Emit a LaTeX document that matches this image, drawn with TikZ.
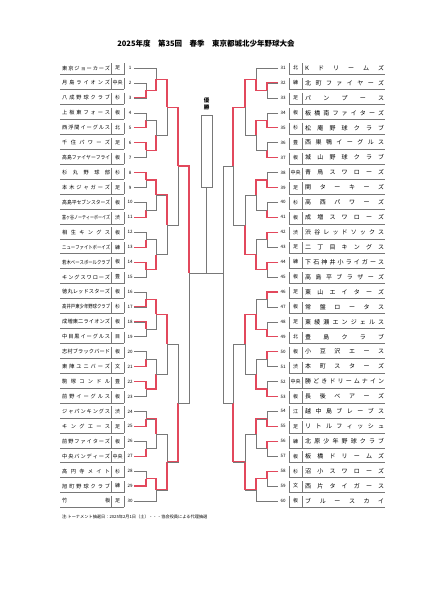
\documentclass[tikz,border=0pt]{standalone}
\usepackage{fontspec}
\usepackage{graphicx}
\setmainfont{Noto Sans CJK JP}
\usetikzlibrary{calc}
\definecolor{wred}{RGB}{226,72,92}
\definecolor{lgray}{RGB}{120,120,120}
\newcommand\fitname[2]{{\spaceskip=0pt plus 1fil\relax\xspaceskip=\spaceskip\sbox0{#2}\ifdim\wd0>#1\relax\resizebox{#1}{\height}{\usebox0}\else\hbox to #1{#2}\fi}}
\newcommand\fitreg[2]{{\sbox0{#2}\ifdim\wd0>#1\relax\resizebox{#1}{\height}{\usebox0}\else\usebox0\fi}}
\tikzset{
  gl/.style={draw=lgray,line width=0.5pt},
  rl/.style={draw=wred,line width=1.1pt},
  ul/.style={draw=lgray,line width=0.4pt},
  tnl/.style={inner sep=0pt,font=\fontsize{5.2}{5.2}\selectfont},
  tnr/.style={inner sep=0pt,font=\fontsize{6}{6}\selectfont},
  rg/.style={inner sep=0pt,font=\fontsize{5}{5}\selectfont},
  nm/.style={inner sep=0pt,font=\fontsize{4.5}{5}\selectfont},
}
\newcommand\LM[6]{%
  \pgfmathsetmacro\yt{68+14.93*#2}\pgfmathsetmacro\yb{68+14.93*#4}\pgfmathsetmacro\ym{(\yt+\yb)/2}%
  \draw[gl] (#1,\yt) -- (#5,\yt) -- (#5,\yb) -- (#3,\yb);
  \ifnum#6=1 \draw[rl] (#1,\yt) -- (#5,\yt) -- (#5,\ym);\fi
  \ifnum#6=2 \draw[rl] (#3,\yb) -- (#5,\yb) -- (#5,\ym);\fi
}
\newcommand\LT[3]{%
  \pgfmathsetmacro\ty{68+14.93*(#1-1)}%
  \node[tnl,anchor=west] (lname#1) at (62,\ty) {\fitname{48pt}{#2}};
  \node[rg] (lreg#1) at (117.5,\ty) {\fitreg{12pt}{#3}};
  \node[nm] (lnum#1) at (130,\ty) {#1};
  \draw[ul] (60,\ty+6.5) -- (124,\ty+6.5);
  \draw[ul] (111,\ty-5) -- (111,\ty+6.5);
  \draw[ul] (124,\ty-5) -- (124,\ty+6.5);
}
\newcommand\RT[3]{%
  \pgfmathsetmacro\ty{68+14.93*(#1-31)}%
  \node[nm] (rnum#1) at (283,\ty) {#1};
  \node[rg] (rreg#1) at (295.5,\ty) {\fitreg{12pt}{#2}};
  \node[tnr,anchor=west] (rname#1) at (305,\ty) {\fitname{79pt}{#3}};
  \draw[ul] (289,\ty+6.5) -- (385,\ty+6.5);
  \draw[ul] (289,\ty-5) -- (289,\ty+6.5);
  \draw[ul] (302,\ty-5) -- (302,\ty+6.5);
}
\begin{document}
\begin{tikzpicture}[x=1pt,y=-1pt]
\useasboundingbox (0,0) rectangle (424,600);
\fill[white] (0,0) rectangle (424,600);
\node[font=\bfseries\fontsize{7.5}{8}\selectfont,inner sep=0pt] (title) at (206,44) {2025年度　第35回　春季　東京都城北少年野球大会};
\node[font=\fontsize{4.2}{5}\selectfont,inner sep=0pt,anchor=west] (note) at (62,517) {注:トーナメント抽選日：2025年2月1日（土）・・・協会役員による代理抽選};
% left teams
\LT{1}{東 京 ジ ョ ー カ ー ズ}{足}
\LT{2}{月 島 ラ イ オ ン ズ}{中央}
\LT{3}{八 成 野 球 ク ラ ブ}{杉}
\LT{4}{上 板 東 フ ォ ー ス}{板}
\LT{5}{西 浮 間 イ ー グ ル ス}{北}
\LT{6}{千 住 パ ワ ー ズ}{足}
\LT{7}{高 島 フ ァ イ ヤ ー フ ラ イ}{板}
\LT{8}{杉 丸 野 球 部}{杉}
\LT{9}{本 木 ジ ャ ガ ー ズ}{足}
\LT{10}{高 島 平 セ ブ ン ス タ ー ズ}{板}
\LT{11}{富 ヶ 谷 ノ ー テ ィ ー ボ ー イ ズ}{渋}
\LT{12}{相 生 キ ン グ ス}{板}
\LT{13}{ニ ュ ー フ ァ イ ト ボ ー イ ズ}{練}
\LT{14}{若 木 ベ ー ス ボ ー ル ク ラ ブ}{板}
\LT{15}{キ ン グ ス ワ ロ ー ズ}{豊}
\LT{16}{徳 丸 レ ッ ド ス タ ー ズ}{板}
\LT{17}{高 井 戸 東 少 年 野 球 ク ラ ブ}{杉}
\LT{18}{成 増 東 二 ラ イ オ ン ズ}{板}
\LT{19}{中 目 黒 イ ー グ ル ス}{目}
\LT{20}{志 村 ブ ラ ッ ク バ ー ド}{板}
\LT{21}{東 陣 ユ ニ バ ー ズ}{文}
\LT{22}{駒 塚 コ ン ド ル}{豊}
\LT{23}{前 野 イ ー グ ル ス}{板}
\LT{24}{ジ ャ パ ン キ ン グ ス}{渋}
\LT{25}{キ ン グ エ ー ス}{足}
\LT{26}{前 野 フ ァ イ タ ー ズ}{板}
\LT{27}{中 央 バ ン デ ィ ー ズ}{中央}
\LT{28}{高 円 寺 メ イ ト}{杉}
\LT{29}{旭 町 野 球 ク ラ ブ}{練}
\LT{30}{竹 板}{足}
% right teams
\RT{31}{北}{K ド リ ー ム ズ}
\RT{32}{練}{北 町 フ ァ イ ヤ ー ズ}
\RT{33}{足}{パ ン プ ー ス}
\RT{34}{板}{板 橋 南 フ ァ イ タ ー ズ}
\RT{35}{杉}{松 庵 野 球 ク ラ ブ}
\RT{36}{豊}{西 巣 鴨 イ ー グ ル ス}
\RT{37}{板}{城 山 野 球 ク ラ ブ}
\RT{38}{中央}{青 鳥 ス ワ ロ ー ズ}
\RT{39}{足}{関 タ ー キ ー ズ}
\RT{40}{杉}{高 西 パ ワ ー ズ}
\RT{41}{板}{成 増 ス ワ ロ ー ズ}
\RT{42}{渋}{渋 谷 レ ッ ド ソ ッ ク ス}
\RT{43}{足}{二 丁 目 キ ン グ ス}
\RT{44}{練}{下 石 神 井 小 ラ イ ガ ー ス}
\RT{45}{板}{高 島 平 ブ ラ ザ ー ズ}
\RT{46}{足}{東 山 エ イ タ ー ズ}
\RT{47}{板}{常 盤 ロ ー タ ス}
\RT{48}{足}{東 綾 瀬 エ ン ジ ェ ル ス}
\RT{49}{北}{豊 島 ク ラ ブ}
\RT{50}{板}{小 豆 沢 エ ー ス}
\RT{51}{渋}{本 町 ス タ ー ズ}
\RT{52}{中央}{勝 ど き ド リ ー ム ナ イ ン}
\RT{53}{板}{長 後 ベ ア ー ズ}
\RT{54}{江}{越 中 島 ブ レ ー ブ ス}
\RT{55}{足}{リ ト ル フ ィ ッ シ ュ}
\RT{56}{練}{北 原 少 年 野 球 ク ラ ブ}
\RT{57}{板}{板 橋 ド リ ー ム ズ}
\RT{58}{杉}{沼 小 ス ワ ロ ー ズ}
\RT{59}{文}{西 片 タ イ ガ ー ス}
\RT{60}{板}{ブ ル ー ス カ イ}
% left bracket R1
\LM{134}{1}{134}{2}{146}{2}
\LM{134}{3}{134}{4}{146}{2}
\LM{134}{5}{134}{6}{146}{1}
\LM{134}{7}{134}{8}{146}{1}
\LM{134}{9}{134}{10}{146}{2}
\LM{134}{11}{134}{12}{146}{2}
\LM{134}{13}{134}{14}{146}{1}
\LM{134}{15}{134}{16}{146}{2}
\LM{134}{17}{134}{18}{146}{1}
\LM{134}{19}{134}{20}{146}{2}
\LM{134}{21}{134}{22}{146}{1}
\LM{134}{23}{134}{24}{146}{2}
\LM{134}{25}{134}{26}{146}{2}
\LM{134}{27}{134}{28}{146}{2}
% R2
\LM{134}{0}{146}{1.5}{156}{2}
\LM{146}{3.5}{146}{5.5}{156}{2}
\LM{146}{7.5}{146}{9.5}{156}{1}
\LM{146}{11.5}{146}{13.5}{156}{2}
\LM{146}{15.5}{146}{17.5}{156}{1}
\LM{146}{19.5}{146}{21.5}{156}{2}
\LM{146}{23.5}{146}{25.5}{156}{1}
\LM{146}{27.5}{134}{29}{156}{1}
% R3
\LM{156}{0.75}{156}{4.5}{167}{1}
\LM{156}{8.5}{156}{12.5}{167}{1}
\LM{156}{16.5}{156}{20.5}{167}{1}
\LM{156}{24.5}{156}{28.25}{167}{2}
% R4
\LM{167}{2.625}{167}{10.5}{178}{1}
\LM{167}{18.5}{167}{26.375}{178}{2}
% R5
\LM{178}{6.5625}{178}{22.4375}{189}{0}
\coordinate (l5t) at (178,165.98);
\coordinate (fl) at (189,273);
\draw[rl] (l5t) -| (fl);
% right bracket R1
\LM{278}{1}{278}{2}{267}{1}
\LM{278}{3}{278}{4}{267}{2}
\LM{278}{5}{278}{6}{267}{2}
\LM{278}{7}{278}{8}{267}{2}
\LM{278}{9}{278}{10}{267}{2}
\LM{278}{11}{278}{12}{267}{1}
\LM{278}{13}{278}{14}{267}{1}
\LM{278}{15}{278}{16}{267}{1}
\LM{278}{17}{278}{18}{267}{2}
\LM{278}{19}{278}{20}{267}{1}
\LM{278}{21}{278}{22}{267}{2}
\LM{278}{23}{278}{24}{267}{2}
\LM{278}{25}{278}{26}{267}{1}
\LM{278}{27}{278}{28}{267}{1}
% R2
\LM{278}{0}{267}{1.5}{256}{2}
\LM{267}{3.5}{267}{5.5}{256}{1}
\LM{267}{7.5}{267}{9.5}{256}{1}
\LM{267}{11.5}{267}{13.5}{256}{2}
\LM{267}{15.5}{267}{17.5}{256}{2}
\LM{267}{19.5}{267}{21.5}{256}{2}
\LM{267}{23.5}{267}{25.5}{256}{1}
\LM{267}{27.5}{278}{29}{256}{1}
% R3
\LM{256}{0.75}{256}{4.5}{245}{1}
\LM{256}{8.5}{256}{12.5}{245}{2}
\LM{256}{16.5}{256}{20.5}{245}{1}
\LM{256}{24.5}{256}{28.25}{245}{2}
% R4
\LM{245}{2.625}{245}{10.5}{233}{1}
\LM{245}{18.5}{245}{26.375}{233}{2}
% R5
\LM{233}{6.5625}{233}{22.4375}{223}{0}
% final
\node[draw=lgray,line width=0.5pt,minimum width=11pt,minimum height=72pt,inner sep=0pt] (champ) at (206.5,151) {};
\node[font=\bfseries\fontsize{5.5}{6.5}\selectfont,align=center,inner sep=0pt] (yusho) at (206.5,104) {優\\勝};
\coordinate (fr) at (223,273);
\draw[gl] (fl) -- (fr);
\draw[gl] (champ.south) -- (champ.south |- fl);
\end{tikzpicture}
\end{document}
